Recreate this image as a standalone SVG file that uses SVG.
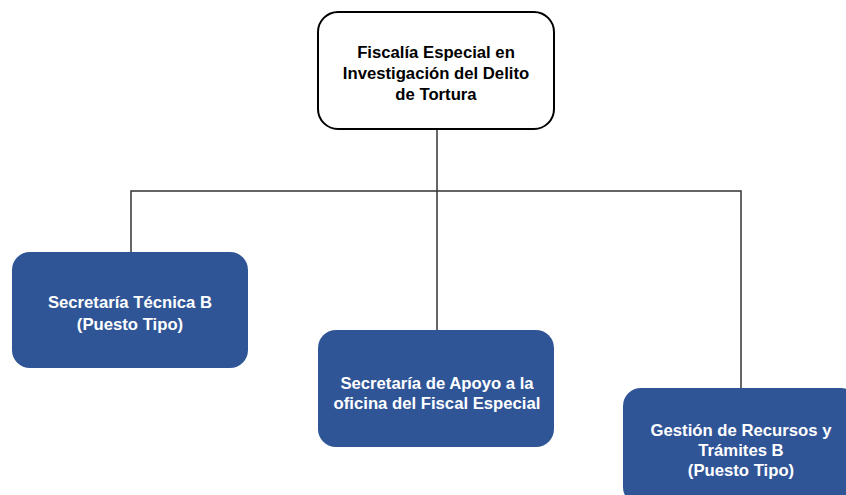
<svg xmlns="http://www.w3.org/2000/svg" width="846" height="495" viewBox="0 0 846 495">
<style>
.t{font-family:"Liberation Sans",Arial,sans-serif;font-weight:bold;font-size:16.7px;text-anchor:middle}
.w{fill:#ffffff}
.k{fill:#000000}
.blue{fill:#2F5597}
.conn{stroke:#333333;stroke-width:1.5;fill:none}
</style>
<rect width="846" height="495" fill="#ffffff"/>
<g id="connectors">
<path class="conn" d="M437 130 V331"/>
<path class="conn" d="M131 252 V191 H741 V389"/>
</g>
<g id="top">
<rect x="318" y="12" width="236" height="117" rx="20" fill="#ffffff" stroke="#000000" stroke-width="2"/>
<text class="t k" x="436" y="58">Fiscalía Especial en</text>
<text class="t k" x="436" y="79">Investigación del Delito</text>
<text class="t k" x="436" y="100">de Tortura</text>
</g>
<g id="secretaria-tecnica">
<rect class="blue" x="12" y="252" width="236" height="116" rx="18"/>
<text class="t w" x="130" y="308">Secretaría Técnica B</text>
<text class="t w" x="130" y="330">(Puesto Tipo)</text>
</g>
<g id="secretaria-apoyo">
<rect class="blue" x="318" y="330" width="236" height="117" rx="18"/>
<text class="t w" x="437" y="389">Secretaría de Apoyo a la</text>
<text class="t w" x="437" y="409">oficina del Fiscal Especial</text>
</g>
<g id="gestion">
<rect class="blue" x="623" y="388" width="236" height="117" rx="18"/>
<text class="t w" x="741" y="436">Gestión de Recursos y</text>
<text class="t w" x="741" y="456">Trámites B</text>
<text class="t w" x="741" y="476">(Puesto Tipo)</text>
</g>
</svg>
